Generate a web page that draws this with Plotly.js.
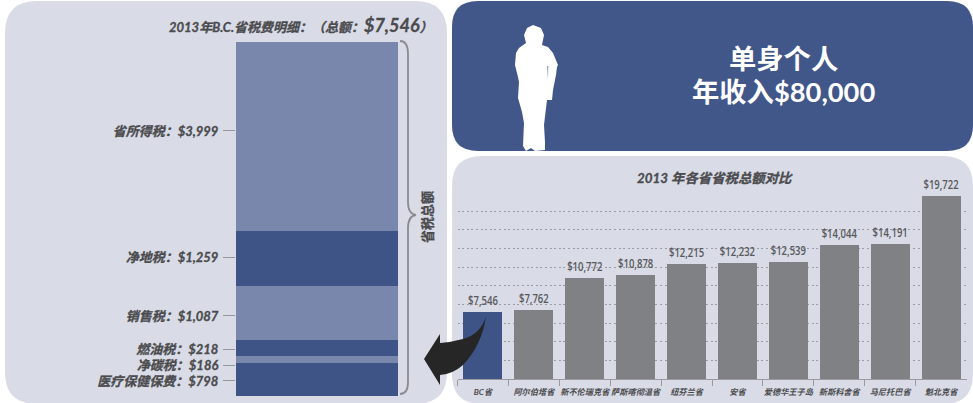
<!DOCTYPE html>
<html><head><meta charset="utf-8">
<script src="https://cdn.plot.ly/plotly-3.0.1.min.js"></script>
<style>html,body{margin:0;padding:0;background:#fff}#c{width:973px;height:403px}
.ytick text,.xtick text{stroke:#4b4b4e;stroke-width:.3px}
.annotation[data-index="0"] text,.annotation[data-index="1"] text,.annotation[data-index="4"] text{stroke:#4b4b4e;stroke-width:.3px}
</style>
</head><body><div id="c"></div>
<script>
// Left stacked bar, listed bottom to top. The printed amounts come from the labels;
// the band sizes are read from the drawn heights, which are not quite proportional to them.
const taxNames = ['医疗保健保费','净碳税','燃油税','销售税','净地税','省所得税'];
const taxAmounts = [798,186,218,1087,1259,3999];
const taxBandSizes = [704,149,341,1151,1173,4029];
const taxBandColors = ['#3e5487','#7a87ac','#3e5487','#7a87ac','#3e5487','#7a87ac'];
const taxLabelAnchors = [320,661,1002,1706,2963,5650];

// Right bar chart: printed amounts and the heights as drawn.
const provinces = ['BC省','阿尔伯塔省','新不伦瑞克省','萨斯喀彻温省','纽芬兰省','安省','爱德华王子岛','新斯科舍省','马尼托巴省','魁北克省'];
const provinceAmounts = [7546,7762,10772,10878,12215,12232,12539,14044,14191,19722];
const provinceBarSizes = [7180,7390,10820,11140,12320,12430,12540,14360,14460,19610];
const provinceColors = ['#3e5487','#808184','#808184','#808184','#808184','#808184','#808184','#808184','#808184','#808184'];
const gridValues = [2000,4000,6000,8000,10000,12000,14000,16000,18000];

const W = 973, H = 403;
const fx = x => x / W, fy = y => 1 - y / H;
const money = v => '$' + v.toLocaleString('en-US');
const P = (x, y) => fx(x).toFixed(5) + ',' + fy(y).toFixed(5);
function pathOf(cmds){ return cmds.map(c => c[0] + c.slice(1).map(p => P(p[0], p[1])).join(' ')).join(' '); }
function rounded(x0,y0,x1,y1,r){
  return pathOf([['M',[x0+r,y0]],['L',[x1-r,y0]],['Q',[x1,y0],[x1,y0+r]],['L',[x1,y1-r]],['Q',[x1,y1],[x1-r,y1]],
    ['L',[x0+r,y1]],['Q',[x0,y1],[x0,y1-r]],['L',[x0,y0+r]],['Q',[x0,y0],[x0+r,y0]],['Z']]);
}
function poly(pts){ return pathOf(pts.map((p,i)=>[i?'L':'M',p]).concat([['Z']])); }

const FONT = 'Lato,"Noto Sans CJK SC",sans-serif';
const INK = '#4b4b4e';
const PANEL = '#d9dce7';

const traces = taxNames.map((n,i)=>({
  type:'bar', name:n, x:['B.C.'], y:[taxBandSizes[i]], width:1, xaxis:'x', yaxis:'y',
  marker:{color:taxBandColors[i], line:{width:0}}, hoverinfo:'skip', showlegend:false
}));
traces.push({
  type:'bar', x:provinces, y:provinceBarSizes, width:0.766, xaxis:'x2', yaxis:'y2',
  marker:{color:provinceColors, line:{width:0}}, text:provinceAmounts.map(money),
  textposition:'outside', cliponaxis:false, constraintext:'none',
  textfont:{family:'"Open Sans",sans-serif', size:12.5, color:'#58595c', weight:600},
  hoverinfo:'skip', showlegend:false
});

// Silhouette (x, y in page pixels)
const person = [[533,25],[527,28],[524,35],[526,43],[519,48],[516,53],[515,65],[518,77],[519,82],[518,98],[522,112],[524,123],[523,146],[526,151],
 [531,148],[535,151],[545,150],[545,142],[544,125],[547,100],[552,100],[553,90],[556,75],[557,67],[558,65],[553,53],[548,47],[542,45],[544,35],[541,28]];
const armGap = [[547.4,66],[548.2,66],[548,80]];
const arrow = pathOf([['M',[424,359]],['L',[440,334]],['L',[440,343]],['Q',[452,342],[463,339]],['Q',[481,334],[486,316]],['Q',[482,345],[463,365]],['Q',[453,374],[440,375]],['L',[440,385]],['Z']]);
const brace = pathOf([['M',[400,41]],['Q',[408,41],[408,54]],['L',[408,202]],['Q',[408,214],[416,215]],['Q',[408,216],[408,228]],['L',[408,382]],['Q',[408,394],[400,394]]]);

const shapes = [
  {type:'path',xref:'paper',yref:'paper',layer:'below',path:rounded(5,1,447,404,32),fillcolor:PANEL,line:{width:0}},
  {type:'path',xref:'paper',yref:'paper',layer:'below',path:rounded(452,1,973,151,26),fillcolor:'#415689',line:{width:0}},
  {type:'path',xref:'paper',yref:'paper',layer:'below',path:rounded(452,156,973,404,30),fillcolor:PANEL,line:{width:0}},
  {type:'path',xref:'paper',yref:'paper',layer:'below',path:poly(person),fillcolor:'#ffffff',line:{width:0}},
  {type:'path',xref:'paper',yref:'paper',layer:'below',path:poly(armGap),fillcolor:'#415689',line:{width:0}},
  {type:'path',xref:'paper',yref:'paper',layer:'above',path:brace,fillcolor:'rgba(0,0,0,0)',line:{color:'#8b8c90',width:1.8}},
  {type:'path',xref:'paper',yref:'paper',layer:'above',path:arrow,fillcolor:'#262626',line:{width:0}}
];

function note(x,y,text,size,color,extra){
  return Object.assign({xref:'paper',yref:'paper',x:fx(x),y:fy(y),xanchor:'center',yanchor:'middle',showarrow:false,text:text,
    font:{family:FONT,size:size,color:color}},extra||{});
}
const annotations = [
  note(301,25,'2013年B.C.省税费明细：（总额：<span style="font-size:18px">$7,546</span>）',13,INK,{font:{family:FONT,size:13,color:INK,weight:700,style:'italic'}}),
  note(427,217,'省税总额',13,INK,{textangle:-90,font:{family:FONT,size:13,color:INK,weight:700}}),
  note(783,59,'单身个人',27.3,'#ffffff',{font:{family:FONT,size:27.3,color:'#ffffff',weight:700}}),
  note(783,92,'年收入$80,000',27.3,'#ffffff',{font:{family:FONT,size:27.3,color:'#ffffff',weight:700}}),
  note(715,178,'2013 年各省省税总额对比',13.4,INK,{font:{family:FONT,size:13.4,color:INK,weight:700,style:'italic'}})
];

const layout = {
  width:W, height:H, margin:{l:0,r:0,t:0,b:0}, autosize:false, showlegend:false,
  paper_bgcolor:'#ffffff', plot_bgcolor:'rgba(0,0,0,0)', barmode:'stack', font:{family:FONT},
  xaxis:{domain:[fx(236),fx(398)],anchor:'y',type:'category',range:[-0.5,0.5],showgrid:false,zeroline:false,showline:false,ticks:'',showticklabels:false,fixedrange:true},
  yaxis:{domain:[fy(396),fy(42)],anchor:'x',range:[0,7547],showgrid:false,zeroline:false,showline:false,
    tickmode:'array',tickvals:taxLabelAnchors,ticktext:taxNames.map((n,i)=>n+'：'+money(taxAmounts[i])),
    ticks:'outside',ticklen:12,tickwidth:1,tickcolor:'#98999d',ticklabelstandoff:2,
    tickfont:{family:FONT,size:13,color:INK,weight:700,style:'italic'},fixedrange:true},
  xaxis2:{domain:[fx(457.5),fx(966.5)],anchor:'y2',type:'category',categoryorder:'array',categoryarray:provinces,range:[-0.5,9.5],
    showgrid:false,zeroline:false,showline:true,linecolor:'#9a9ba1',linewidth:1,ticks:'outside',ticklen:6,tickwidth:1,tickcolor:'#9a9ba1',
    tickson:'boundaries',tickangle:0,ticklabelstandoff:5,tickfont:{family:FONT,size:8.2,color:INK,weight:700,style:'italic'},fixedrange:true},
  yaxis2:{domain:[fy(379),fy(192.33)],anchor:'x2',range:[0,20000],zeroline:false,showline:false,showticklabels:false,ticks:'',
    tickmode:'array',tickvals:gridValues,showgrid:true,gridcolor:'#9b9da5',gridwidth:1,griddash:'2px,2.6px',fixedrange:true},
  shapes:shapes, annotations:annotations
};
Plotly.newPlot('c',traces,layout,{displayModeBar:false,staticPlot:true}).then(()=>{
  // The reference's value labels are set in a condensed face; narrow the installed one to the same width.
  document.querySelectorAll('text.bartext').forEach(t=>{
    t.setAttribute('textLength',(t.getComputedTextLength()*0.76).toFixed(1));
    t.setAttribute('lengthAdjust','spacingAndGlyphs');
  });
});
</script></body></html>
